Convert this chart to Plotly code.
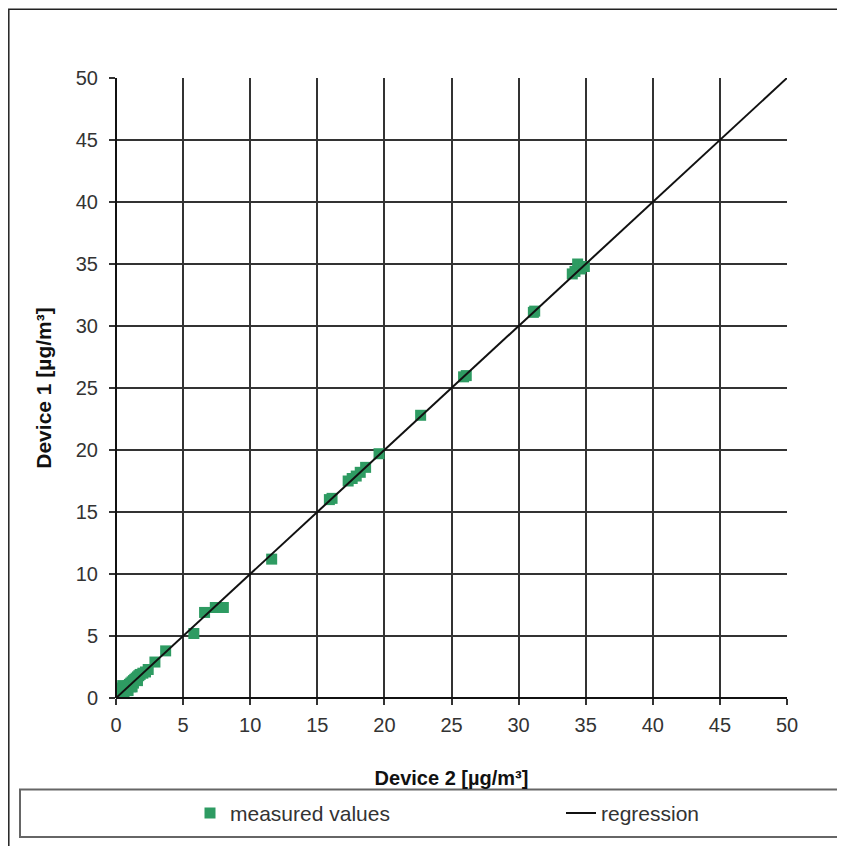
import plotly.graph_objects as go

# Measured values (Device 2 on x, Device 1 on y), µg/m³
device2 = [0.1, 0.2, 0.3, 0.4, 0.5, 0.6, 0.7, 0.8, 0.9, 1.0, 1.1, 1.2, 1.3, 1.4, 1.5,
           1.6, 1.7, 1.8, 2.0, 2.2, 2.4, 0.5, 0.8, 1.1, 0.3, 0.6, 1.3,
           0.3, 0.6, 0.9, 1.2, 1.6, 0.2, 0.5,
           2.9, 3.7, 5.8, 6.6, 7.4, 8.0,
           11.6, 15.9, 16.1, 17.3, 17.6, 17.9, 18.2, 18.6, 19.6, 22.7, 25.9, 26.1,
           31.1, 31.2, 34.0, 34.2, 34.4, 34.6, 34.9]
device1 = [0.3, 0.4, 0.5, 0.6, 0.6, 0.7, 0.8, 0.9, 1.0, 1.1, 1.2, 1.3, 1.4, 1.5, 1.6,
           1.7, 1.8, 1.9, 2.0, 2.1, 2.3, 0.3, 0.6, 0.9, 0.7, 0.9, 1.2,
           0.1, 0.4, 0.6, 0.9, 1.4, 0.8, 1.0,
           2.9, 3.8, 5.2, 6.9, 7.3, 7.3,
           11.2, 16.0, 16.1, 17.5, 17.7, 17.9, 18.2, 18.6, 19.7, 22.8, 25.9, 26.0,
           31.1, 31.2, 34.2, 34.4, 35.0, 34.6, 34.8]

# Regression line end points
regression_x = [0, 50]
regression_y = [0.0, 50.0]

x_ticks = [0, 5, 10, 15, 20, 25, 30, 35, 40, 45, 50]
y_ticks = [0, 5, 10, 15, 20, 25, 30, 35, 40, 45, 50]

x_title = "Device 2 [µg/m³]"
y_title = "Device 1 [µg/m³]"
series_names = ["measured values", "regression"]

GREEN = "#2E9B62"
FONT = "Liberation Sans, Arial, sans-serif"

# page body has an 8px default margin -> work in shifted pixel coordinates
OFF = 8
W, H = 845 - OFF, 846 - OFF
L, T = 116 - OFF, 78 - OFF
R = W - (787 - OFF)
B = H - (702 - OFF)
pw, ph = W - L - R, H - T - B


def px2x(p):
    return (p - OFF - L) / pw


def px2y(p):
    return (H - B - (p - OFF)) / ph


fig = go.Figure()
fig.add_trace(go.Scatter(
    x=device2, y=device1, mode="markers", name=series_names[0],
    marker=dict(symbol="square", size=11, color=GREEN, line=dict(width=0)),
    legend="legend",
))
fig.add_trace(go.Scatter(
    x=regression_x, y=regression_y, mode="lines", name=series_names[1],
    line=dict(color="#111111", width=2),
    legend="legend2",
))

axis_common = dict(
    showgrid=True, gridcolor="#333333", gridwidth=1.5,
    zeroline=False, showline=False,
    ticks="outside", ticklen=6, tickcolor="#333333", tickwidth=1.5,
    tickfont=dict(family=FONT, size=20, color="#333333"),
    fixedrange=True,
)

fig.update_xaxes(range=[0, 50], tickvals=x_ticks, ticktext=[str(v) for v in x_ticks],
                 ticklabelstandoff=3,
                 title=dict(text="<b>" + x_title + "</b>", font=dict(family=FONT, size=20, color="#111111"),
                            standoff=35),
                 **axis_common)
fig.update_yaxes(range=[0, 50], tickvals=y_ticks, ticktext=[str(v) for v in y_ticks],
                 ticklabelstandoff=7,
                 title=dict(text="<b>" + y_title + "</b>", font=dict(family=FONT, size=21, color="#111111"),
                            standoff=18),
                 **axis_common)

shapes = [
    # outer frame
    dict(type="rect", xref="paper", yref="paper",
         x0=px2x(8.8), x1=px2x(870), y0=px2y(870), y1=px2y(8.8),
         line=dict(color="#222222", width=1.5)),
    # legend box
    dict(type="rect", xref="paper", yref="paper",
         x0=px2x(20), x1=px2x(870), y0=px2y(842), y1=px2y(794),
         line=dict(color="#666666", width=2)),
    # axis lines (left and bottom)
    dict(type="line", xref="paper", yref="paper", x0=0, x1=0, y0=0, y1=1,
         line=dict(color="#111111", width=2)),
    dict(type="line", xref="paper", yref="paper", x0=0, x1=1, y0=0, y1=0,
         line=dict(color="#111111", width=2)),
]

legend_common = dict(
    orientation="h", xanchor="left", yanchor="middle",
    font=dict(family=FONT, size=21, color="#333333"),
    bgcolor="rgba(0,0,0,0)", borderwidth=0,
)

fig.update_layout(
    width=W, height=H,
    margin=dict(l=L, r=R, t=T, b=B),
    paper_bgcolor="white", plot_bgcolor="white",
    font=dict(family=FONT, color="#333333"),
    shapes=shapes,
    showlegend=True,
    legend=dict(x=px2x(190), y=px2y(818), **legend_common),
    legend2=dict(x=px2x(561), y=px2y(818), **legend_common),
)

fig.write_html("out.html")
